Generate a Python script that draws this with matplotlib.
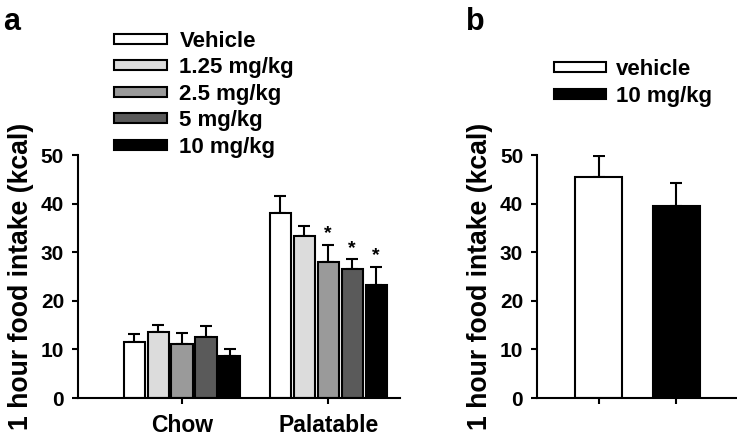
import matplotlib
matplotlib.use("Agg")
import matplotlib.pyplot as plt
from matplotlib.patches import Patch
import numpy as np

plt.rcParams['font.family'] = ['Liberation Sans', 'DejaVu Sans']
plt.rcParams['font.weight'] = 'bold'

# panel a data
grupos = ["Chow", "Palatable"]
dosis = ["Vehicle", "1.25 mg/kg", "2.5 mg/kg", "5 mg/kg", "10 mg/kg"]
colores = ["#ffffff", "#dcdcdc", "#9a9a9a", "#5a5a5a", "#000000"]
chow = [11.6, 13.6, 11.2, 12.6, 8.6]
chow_err = [1.6, 1.4, 2.1, 2.2, 1.5]
palatable = [38.0, 33.4, 28.1, 26.5, 23.2]
palatable_err = [3.6, 2.0, 3.5, 2.1, 3.8]
estrellas = [False, False, True, True, True]

# panel b data
grupos_b = ["vehicle", "10 mg/kg"]
colores_b = ["#ffffff", "#000000"]
valores_b = [45.5, 39.5]
err_b = [4.4, 4.7]

fig = plt.figure(figsize=(7.37, 4.37), dpi=100)
ax1 = fig.add_axes([0.1058, 0.0892, 0.4372, 0.5558])
ax2 = fig.add_axes([0.7287, 0.0892, 0.2713, 0.5558])

def estilo(ax):
    for lado in ["top", "right"]:
        ax.spines[lado].set_visible(False)
    for lado in ["left", "bottom"]:
        ax.spines[lado].set_linewidth(1.5)
    ax.set_ylim(0, 50)
    ax.set_yticks([0, 10, 20, 30, 40, 50])
    ax.tick_params(axis="y", direction="out", length=4, width=1.5, labelsize=15, pad=6)
    ax.tick_params(axis="x", direction="out", length=4, width=1.5)
    for t in ax.get_yticklabels():
        t.set_fontweight("bold")
    ax.set_ylabel("1 hour food intake (kcal)", fontsize=19.2, fontweight="bold", labelpad=5)

# panel a
ancho = 0.144
paso = 0.164
datos = [chow, palatable]
errores = [chow_err, palatable_err]
for i in range(len(dosis)):
    offs = (i - 2) * paso
    xs = np.arange(len(grupos)) + offs
    ys = [datos[0][i], datos[1][i]]
    es = [errores[0][i], errores[1][i]]
    ax1.bar(xs, ys, width=ancho, color=colores[i], edgecolor="black", linewidth=1.5, zorder=2)
    ax1.errorbar(xs, ys, yerr=[np.zeros(2), es], fmt="none", ecolor="black",
                 elinewidth=1.5, capsize=4, capthick=1.5, zorder=1)
    if estrellas[i]:
        ax1.text(xs[1], ys[1] + es[1] + 0.5, "*", ha="center", va="bottom", fontsize=14)

ax1.set_xlim(-0.712, 1.493)
ax1.set_xticks([0, 1])
ax1.set_xticklabels([])
for i, g in enumerate(grupos):
    ax1.text(i, -5.6, g, ha="center", va="center", fontsize=16.5, fontweight="bold")
estilo(ax1)

handles = [Patch(facecolor=c, edgecolor="black", linewidth=1.5) for c in colores]
fig.legend(handles, dosis, loc="upper left", bbox_to_anchor=(0.140, 0.955), frameon=False,
           handlelength=2.35, handleheight=0.32, labelspacing=0.25, handletextpad=0.58,
           prop={"size": 16, "weight": "bold"}, borderpad=0)

# panel b
xb = np.arange(len(grupos_b))
ax2.bar(xb, valores_b, width=0.6, color=colores_b, edgecolor="black", linewidth=1.5, zorder=2)
ax2.errorbar(xb, valores_b, yerr=[np.zeros(2), err_b], fmt="none", ecolor="black",
             elinewidth=1.5, capsize=4, capthick=1.5, zorder=1)
ax2.set_xlim(-0.79, 1.78)
ax2.set_xticks(xb)
ax2.set_xticklabels([])
estilo(ax2)

handles_b = [Patch(facecolor=c, edgecolor="black", linewidth=1.5) for c in colores_b]
fig.legend(handles_b, grupos_b, loc="upper left", bbox_to_anchor=(0.736, 0.89), frameon=False,
           handlelength=2.35, handleheight=0.32, labelspacing=0.25, handletextpad=0.45,
           prop={"size": 16, "weight": "bold"}, borderpad=0)

fig.text(0.004, 0.985, "a", fontsize=22, fontweight="bold", va="top")
fig.text(0.632, 0.985, "b", fontsize=22, fontweight="bold", va="top")

fig.savefig("out.png", dpi=100)
